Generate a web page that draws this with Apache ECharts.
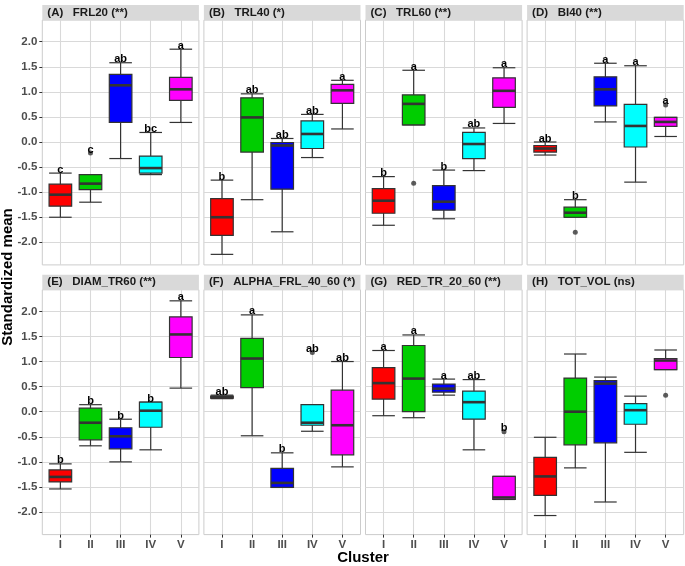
<!DOCTYPE html>
<html>
<head>
<meta charset="utf-8">
<script src="https://cdn.jsdelivr.net/npm/echarts@6/dist/echarts.min.js"></script>
<style>
html, body { margin: 0; padding: 0; background: #fff; }
#main { width: 685px; height: 566px; }
</style>
</head>
<body>
<div id="main"></div>
<script>
var clusters = ['I', 'II', 'III', 'IV', 'V'];
var yTicks = [-2, -1.5, -1, -0.5, 0, 0.5, 1, 1.5, 2];
var panelTitles = ['(A)   FRL20 (**)', '(B)   TRL40 (*)', '(C)   TRL60 (**)', '(D)   BI40 (**)',
    '(E)   DIAM_TR60 (**)', '(F)   ALPHA_FRL_40_60 (*)', '(G)   RED_TR_20_60 (**)', '(H)   TOT_VOL (ns)'];

// per cluster: [lower whisker, Q1, median, Q3, upper whisker]
// outliers: [cluster index, value]; sig: letters over each box
var frl20 = [[-1.50, -1.28, -1.05, -0.84, -0.62], [-1.20, -0.95, -0.83, -0.65, -0.65], [-0.33, 0.39, 1.13, 1.35, 1.58], [-0.65, -0.62, -0.52, -0.28, 0.19], [0.39, 0.83, 1.05, 1.29, 1.85]];
var frl20Out = [[1, -0.22]];
var frl20Sig = ['c', 'c', 'ab', 'bc', 'a'];

var trl40 = [[-2.24, -1.86, -1.50, -1.13, -0.76], [-1.15, -0.20, 0.49, 0.88, 0.96], [-1.79, -0.94, -0.07, -0.01, 0.07], [-0.31, -0.13, 0.16, 0.42, 0.55], [0.26, 0.77, 1.03, 1.15, 1.23]];
var trl40Out = [];
var trl40Sig = ['b', 'ab', 'ab', 'ab', 'a'];

var trl60 = [[-1.66, -1.42, -1.17, -0.93, -0.69], [0.34, 0.34, 0.76, 0.94, 1.43], [-1.53, -1.36, -1.19, -0.87, -0.56], [-0.57, -0.33, -0.04, 0.19, 0.28], [0.37, 0.69, 1.02, 1.28, 1.48]];
var trl60Out = [[1, -0.82]];
var trl60Sig = ['b', 'a', 'b', 'ab', 'a'];

var bi40 = [[-0.26, -0.20, -0.13, -0.07, 0.00], [-1.50, -1.50, -1.41, -1.30, -1.15], [0.40, 0.72, 1.05, 1.30, 1.57], [-0.80, -0.10, 0.32, 0.75, 1.52], [0.11, 0.31, 0.40, 0.49, 0.49]];
var bi40Out = [[1, -1.80], [4, 0.74]];
var bi40Sig = ['ab', 'b', 'a', 'a', 'a'];

var diamTr60 = [[-1.54, -1.40, -1.30, -1.16, -1.04], [-0.68, -0.56, -0.22, 0.07, 0.14], [-1.00, -0.74, -0.49, -0.32, -0.15], [-0.76, -0.31, 0.02, 0.19, 0.19], [0.47, 1.08, 1.54, 1.89, 2.21]];
var diamTr60Out = [];
var diamTr60Sig = ['b', 'b', 'b', 'b', 'a'];

var alphaFrl = [[0.26, 0.27, 0.29, 0.31, 0.33], [-0.48, 0.48, 1.06, 1.46, 1.93], [-1.51, -1.51, -1.42, -1.13, -0.82], [-0.39, -0.27, -0.22, 0.14, 0.14], [-1.10, -0.86, -0.27, 0.43, 1.00]];
var alphaFrlOut = [[3, 1.18]];
var alphaFrlSig = ['ab', 'a', 'b', 'ab', 'ab'];

var redTr = [[-0.08, 0.25, 0.57, 0.88, 1.22], [-0.12, 0.00, 0.66, 1.32, 1.53], [0.33, 0.39, 0.46, 0.55, 0.65], [-0.76, -0.15, 0.19, 0.41, 0.64], [-1.75, -1.75, -1.71, -1.29, -1.29]];
var redTrOut = [[4, -0.40]];
var redTrSig = ['a', 'a', 'a', 'ab', 'b'];

var totVol = [[-2.07, -1.67, -1.29, -0.91, -0.51], [-1.12, -0.66, 0.00, 0.67, 1.15], [-1.80, -0.62, 0.56, 0.62, 0.69], [-0.81, -0.25, 0.03, 0.16, 0.31], [0.84, 0.84, 1.02, 1.06, 1.23]];
var totVolOut = [[4, 0.33]];
var totVolSig = ['', '', '', '', ''];

var panels = [
    [frl20, frl20Out, frl20Sig], [trl40, trl40Out, trl40Sig], [trl60, trl60Out, trl60Sig], [bi40, bi40Out, bi40Sig],
    [diamTr60, diamTr60Out, diamTr60Sig], [alphaFrl, alphaFrlOut, alphaFrlSig], [redTr, redTrOut, redTrSig], [totVol, totVolOut, totVolSig]
];

var boxColors = ['#ff0000', '#00cd00', '#0000ff', '#00ffff', '#ff00ff'];
var font = '"Liberation Sans", Arial, sans-serif';

var colX = [42.3, 203.9, 365.5, 527.1];
var rowY = [20.1, 289.8];
var panelW = 156.6, panelH = 244.8, stripH = 15;

var chart = echarts.init(document.getElementById('main'));

var grids = [], xAxes = [], yAxes = [], series = [], graphics = [];

panels.forEach(function (p, i) {
    var r = Math.floor(i / 4), c = i % 4;
    var stats = p[0], outs = p[1], sig = p[2];

    grids.push({
        left: colX[c], top: rowY[r], width: panelW, height: panelH,
        show: true, backgroundColor: '#fff', borderColor: '#cccccc', borderWidth: 1
    });

    xAxes.push({
        gridIndex: i,
        type: 'value',
        position: 'bottom',
        min: 0.4,
        max: 5.6,
        axisLine: { show: false, onZero: false },
        axisTick: { show: r === 1, customValues: [1, 2, 3, 4, 5], length: 3, lineStyle: { color: '#333' } },
        axisLabel: {
            show: r === 1,
            customValues: [1, 2, 3, 4, 5],
            margin: 4,
            formatter: function (v) { return clusters[Math.round(v) - 1]; },
            color: '#4d4d4d', fontWeight: 'bold', fontSize: 11.5, fontFamily: font
        },
        splitLine: { show: true, lineStyle: { color: '#d9d9d9', width: 1.1 } }
    });

    yAxes.push({
        gridIndex: i,
        type: 'value',
        position: 'left',
        min: -2.45,
        max: 2.43,
        axisLine: { show: false, onZero: false },
        axisTick: { show: c === 0, customValues: yTicks, length: 3, lineStyle: { color: '#333' } },
        axisLabel: {
            show: c === 0,
            customValues: yTicks,
            margin: 5,
            formatter: function (v) { return v.toFixed(1); },
            color: '#4d4d4d', fontWeight: 'bold', fontSize: 11.5, fontFamily: font
        },
        splitLine: { show: true, lineStyle: { color: '#d9d9d9', width: 1.1 } }
    });

    // letter sits over the highest thing drawn for the cluster
    var tops = stats.map(function (s, k) {
        var t = s[4];
        outs.forEach(function (o) { if (o[0] === k && o[1] > t) t = o[1]; });
        return t;
    });

    series.push({
        type: 'custom',
        xAxisIndex: i,
        yAxisIndex: i,
        data: stats.map(function (s, k) { return [k + 1].concat(s).concat([tops[k]]); }),
        renderItem: function (params, api) {
            var k = params.dataIndex;
            var x = api.value(0);
            var lo = api.value(1), q1 = api.value(2), med = api.value(3), q3 = api.value(4), hi = api.value(5);
            var half = 0.375;
            var pLo = api.coord([x, lo]), pHi = api.coord([x, hi]);
            var l = api.coord([x - half, q3]), rr = api.coord([x + half, q1]);
            var mL = api.coord([x - half, med]), mR = api.coord([x + half, med]);
            var cLo = api.coord([x - half, lo]), cHi = api.coord([x - half, hi]);
            var w = mR[0] - mL[0];
            var tp = api.coord([x, api.value(6)]);
            var lineStyle = { stroke: '#333', lineWidth: 1.2 };
            var children = [
                { type: 'line', z2: 1, shape: { x1: pLo[0], y1: pLo[1], x2: pHi[0], y2: pHi[1] }, style: lineStyle },
                { type: 'line', z2: 1, shape: { x1: cLo[0], y1: cLo[1], x2: cLo[0] + w, y2: cLo[1] }, style: lineStyle },
                { type: 'line', z2: 1, shape: { x1: cHi[0], y1: cHi[1], x2: cHi[0] + w, y2: cHi[1] }, style: lineStyle },
                { type: 'rect', z2: 2, shape: { x: l[0], y: l[1], width: w, height: rr[1] - l[1] },
                    style: { fill: boxColors[k], stroke: '#333', lineWidth: 1.2 } },
                { type: 'line', z2: 3, shape: { x1: mL[0], y1: mL[1], x2: mR[0], y2: mR[1] },
                    style: { stroke: '#333', lineWidth: 2.6 } }
            ];
            if (sig[k]) {
                children.push({
                    type: 'text', z2: 4,
                    style: {
                        text: sig[k], x: tp[0], y: tp[1] + 2,
                        align: 'center', verticalAlign: 'bottom',
                        font: 'bold 11px ' + font, fill: '#000'
                    }
                });
            }
            return { type: 'group', children: children };
        }
    });

    series.push({
        type: 'scatter',
        xAxisIndex: i,
        yAxisIndex: i,
        symbolSize: 5,
        itemStyle: { color: '#333' },
        z: 1,
        data: outs.map(function (o) { return [o[0] + 1, o[1]]; })
    });

    graphics.push({
        type: 'rect',
        shape: { x: colX[c], y: rowY[r] - stripH, width: panelW, height: stripH },
        style: { fill: '#d9d9d9' }
    });
    graphics.push({
        type: 'text',
        x: colX[c] + 5,
        y: rowY[r] - stripH / 2,
        style: {
            text: panelTitles[i], verticalAlign: 'middle',
            font: 'bold 11.5px ' + font, fill: '#1a1a1a'
        }
    });
});

graphics.push({
    type: 'text',
    x: 8, y: 277,
    rotation: Math.PI / 2,
    style: { text: 'Standardized mean', align: 'center', verticalAlign: 'middle', font: 'bold 15px ' + font, fill: '#000' }
});
graphics.push({
    type: 'text',
    x: 363, y: 558,
    style: { text: 'Cluster', align: 'center', verticalAlign: 'middle', font: 'bold 15px ' + font, fill: '#000' }
});

var option = {
    animation: false,
    backgroundColor: '#fff',
    grid: grids,
    xAxis: xAxes,
    yAxis: yAxes,
    series: series,
    graphic: graphics
};
chart.setOption(option);
</script>
</body>
</html>
